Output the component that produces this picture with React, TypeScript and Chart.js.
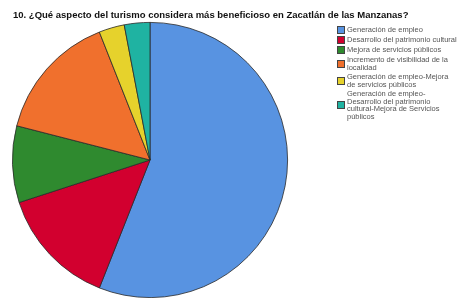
import React, { useEffect, useRef } from "react";
import { Chart, registerables } from "chart.js";

Chart.register(...registerables);

const titleText = "10. ¿Qué aspecto del turismo considera más beneficioso en Zacatlán de las Manzanas?";
const categories = [
  "Generación de empleo",
  "Desarrollo del patrimonio cultural",
  "Mejora de servicios públicos",
  "Incremento de visibilidad de la localidad",
  "Generación de empleo-Mejora de servicios públicos",
  "Generación de empleo-Desarrollo del patrimonio cultural-Mejora de Servicios públicos",
];
const legendLines = [
  ["Generación de empleo"],
  ["Desarrollo del patrimonio cultural"],
  ["Mejora de servicios públicos"],
  ["Incremento de visibilidad de la", "localidad"],
  ["Generación de empleo-Mejora", "de servicios públicos"],
  ["Generación de empleo-", "Desarrollo del patrimonio", "cultural-Mejora de Servicios", "públicos"],
];
const values = [56, 14, 9, 15, 3, 3];
const colors = ["#5893E1", "#D2002F", "#2F8A2F", "#F0702D", "#E6D22C", "#1FB3A2"];

export default function App() {
  const ref = useRef<HTMLCanvasElement>(null);
  useEffect(() => {
    if (!ref.current) return;
    const chart = new Chart(ref.current, {
      type: "pie",
      data: {
        labels: categories,
        datasets: [
          {
            data: values,
            backgroundColor: colors,
            borderColor: "#2a2a2a",
            borderWidth: 0.8,
            hoverOffset: 0,
          },
        ],
      },
      options: {
        animation: false,
        responsive: false,
        maintainAspectRatio: false,
        layout: { padding: { left: 12, top: 22, right: 176, bottom: 0 } },
        plugins: {
          legend: { display: false },
          tooltip: { enabled: false },
          title: { display: false },
        },
      },
    });
    return () => chart.destroy();
  }, []);

  return (
    <div style={{ position: "absolute", left: 0, top: 0, width: 464, height: 298, background: "#fff", overflow: "hidden" }}>
      <canvas ref={ref} width={464} height={298} style={{ position: "absolute", left: 0, top: 0, width: 464, height: 298 }} />
      <div
        style={{
          position: "absolute",
          left: 13,
          top: 9,
          fontFamily: "'Liberation Sans', Arial, sans-serif",
          fontWeight: "bold",
          fontSize: 9.5,
          lineHeight: "12px",
          color: "#111",
          whiteSpace: "nowrap",
        }}
      >
        {titleText}
      </div>
      <div style={{ position: "absolute", left: 337, top: 26, fontFamily: "'Liberation Sans', Arial, sans-serif", fontSize: 7.5, color: "#555" }}>
        {legendLines.map((lines, i) => (
          <div key={i} style={{ display: "flex", alignItems: "center", marginBottom: 2 }}>
            <div
              style={{
                width: 6,
                height: 6,
                background: colors[i],
                border: "0.8px solid #444",
                marginRight: 2,
                flexShrink: 0,
              }}
            />
            <div style={{ lineHeight: "7.5px" }}>
              {lines.map((l, j) => (
                <div key={j} style={{ whiteSpace: "nowrap" }}>{l}</div>
              ))}
            </div>
          </div>
        ))}
      </div>
    </div>
  );
}
